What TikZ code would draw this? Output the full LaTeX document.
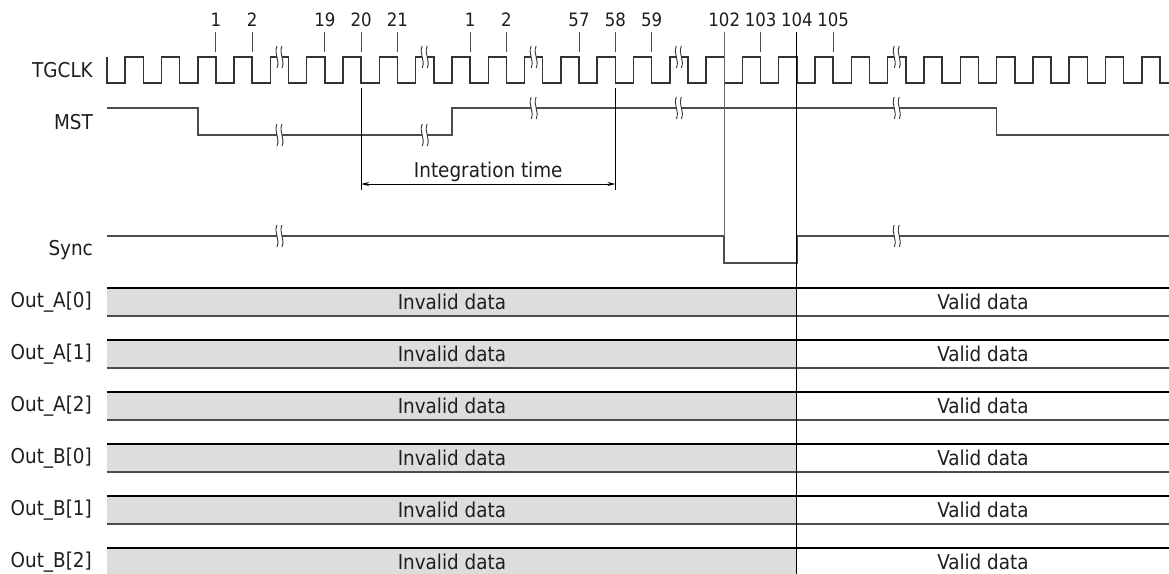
\documentclass[tikz,border=0pt]{standalone}
\usepackage{fontspec}
\setmainfont{DejaVu Sans Condensed}
\usetikzlibrary{arrows.meta}
\definecolor{barfill}{RGB}{220,221,220}
\definecolor{ink}{RGB}{30,30,30}
\tikzset{
  clk/.style={line width=1.5bp, draw=black!80, line join=miter},
  sig/.style={line width=1.7bp, draw=black!70},
  tick/.style={line width=0.9bp, draw=black!70},
  vline/.style={line width=1bp, draw=black},
  lbl/.style={anchor=east, inner sep=0pt, text=ink, font=\fontsize{20.5}{24}\selectfont},
  num/.style={inner sep=0pt, text=ink, font=\fontsize{18.5}{22}\selectfont},
  txt/.style={inner sep=0pt, text=ink, font=\fontsize{20.5}{24}\selectfont},
  bartop/.style={line width=1.2bp, draw=black},
  barbot/.style={line width=1.7bp, draw=black!70},
}
\newcommand{\brkmark}[2]{%
  \fill[white] ({#1-2.5},{#2-11}) .. controls ({#1-6},{#2-3}) and ({#1+1},{#2+3}) .. ({#1-2.5},{#2+11})
     -- ({#1+2.5},{#2+11}) .. controls ({#1+6},{#2+3}) and ({#1-1},{#2-3}) .. ({#1+2.5},{#2-11}) -- cycle;
  \draw[line width=0.9bp, black!80] ({#1-2.5},{#2-11}) .. controls ({#1-6},{#2-3}) and ({#1+1},{#2+3}) .. ({#1-2.5},{#2+11});
  \draw[line width=0.9bp, black!80] ({#1+2.5},{#2-11}) .. controls ({#1-1},{#2-3}) and ({#1+6},{#2+3}) .. ({#1+2.5},{#2+11});
}
\begin{document}
\begin{tikzpicture}[x=1bp,y=-1bp]
\useasboundingbox (0,0) rectangle (1169,574);
\def\hp{18.155}
\def\xo{107}
% clock
\draw[clk] (107,57) \foreach \j in {0,...,28} { -- ({\xo+2*\j*\hp},57) -- ({\xo+2*\j*\hp},83) -- ({\xo+(2*\j+1)*\hp},83) -- ({\xo+(2*\j+1)*\hp},57) } -- ({\xo+58*\hp},57) -- ({\xo+58*\hp},83) -- (1169,83);
% ticks and numbers
\foreach \k/\t [count=\i] in {6/1,8/2,12/19,14/20,16/21,20/1,22/2,26/57,28/58,30/59,34/102,36/103,38/104,40/105} {
  \coordinate (tk\i) at ({\xo+\k*\hp},32);
  \draw[tick] (tk\i) -- ++(0,20);
  \node[num] (n\i) at ({\xo+\k*\hp},20) {\t};
}
% MST
\coordinate (m0) at (107,108);
\coordinate (m1) at ({\xo+5*\hp},108);
\coordinate (m2) at ({\xo+19*\hp},135);
\coordinate (m3) at ({\xo+49*\hp},108);
\coordinate (m4) at (1169,135);
\draw[sig] (m0) -- (m1) |- (m2) |- (m3) |- (m4);
% Sync
\coordinate (s0) at (107,236);
\coordinate (s1) at ({\xo+34*\hp},263);
\coordinate (s2) at ({\xo+38*\hp},236);
\coordinate (s3) at (1169,236);
\draw[sig] (s0) -| (s1) -| (s2) -- (s3);
% bars
\foreach \yy [count=\i] in {288,340,392,444,496,548} {
  \fill[barfill] (107,\yy) rectangle ({\xo+38*\hp},\yy+28);
  \draw[bartop] (107,\yy) -- (1169,\yy);
  \draw[barbot] (107,\yy+28) -- (1169,\yy+28);
  \node[txt] (inv\i) at ({(107+\xo+38*\hp)/2},\yy+14) {Invalid data};
  \node[txt] (val\i) at ({(\xo+38*\hp+1169)/2},\yy+14) {Valid data};
}
% vertical markers
\coordinate (v20a) at ({\xo+14*\hp},88);
\coordinate (v20b) at ({\xo+14*\hp},190);
\coordinate (v58a) at ({\xo+28*\hp},88);
\coordinate (v58b) at ({\xo+28*\hp},190);
\coordinate (v102a) at ({\xo+34*\hp},32);
\coordinate (v102b) at ({\xo+34*\hp},236);
\coordinate (v104a) at ({\xo+38*\hp},32);
\coordinate (v104b) at ({\xo+38*\hp},574);
\draw[vline] (v20a) -- (v20b);
\draw[vline] (v58a) -- (v58b);
\draw[vline, black!60] (v102a) -- (v102b);
\draw[vline] (v104a) -- (v104b);
\coordinate (ia) at ({\xo+14*\hp},184);
\coordinate (ib) at ({\xo+28*\hp},184);
\draw[line width=0.9bp, {Stealth[length=8bp,width=4bp]}-{Stealth[length=8bp,width=4bp]}] (ia) -- (ib);
\node[txt] (itime) at ({\xo+21*\hp},172) {Integration time};
% break marks
\foreach \k in {9.5,17.5,23.5,31.5,43.5} { \brkmark{\xo+\k*\hp}{57} }
\brkmark{\xo+9.5*\hp}{135}
\brkmark{\xo+17.5*\hp}{135}
\brkmark{\xo+23.5*\hp}{108}
\brkmark{\xo+31.5*\hp}{108}
\brkmark{\xo+43.5*\hp}{108}
\brkmark{\xo+9.5*\hp}{236}
\brkmark{\xo+43.5*\hp}{236}
% labels
\node[lbl] (lclk) at (93,70) {TGCLK};
\node[lbl] (lmst) at (93,122) {MST};
\node[lbl] (lsync) at (93,250) {Sync};
\foreach \yy/\t [count=\i] in {288/Out\_A[0],340/Out\_A[1],392/Out\_A[2],444/Out\_B[0],496/Out\_B[1],548/Out\_B[2]} {
  \node[lbl] (lo\i) at (92,\yy+14) {\t};
}
\end{tikzpicture}
\end{document}
